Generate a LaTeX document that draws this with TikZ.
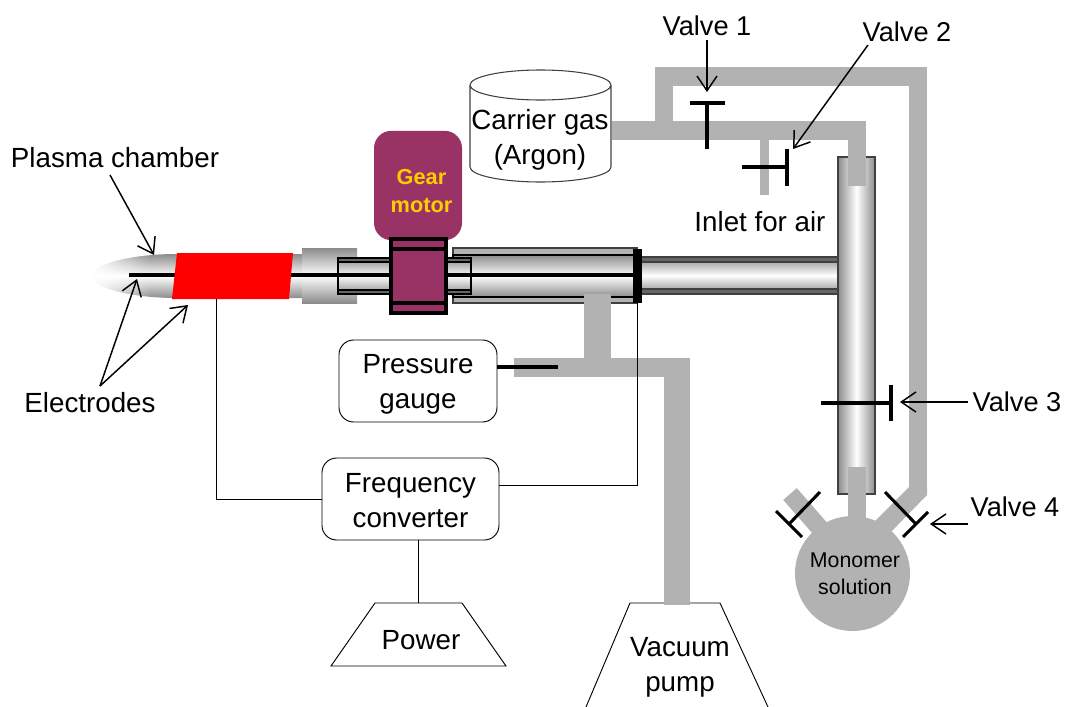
\documentclass[tikz,border=0pt]{standalone}
\usepackage{fontspec}
\setmainfont{Liberation Sans}
\usetikzlibrary{arrows.meta,calc,fadings}
\definecolor{pipegray}{HTML}{B2B2B2}
\definecolor{motorpurple}{HTML}{993366}
\definecolor{shadedark}{HTML}{8C8C8C}
\definecolor{goldtext}{HTML}{FFCC00}
\tikzset{
  label text/.style={font=\fontsize{20.8}{26.5}\selectfont,align=center,inner sep=0pt,text=black},
  valve text/.style={font=\fontsize{20.4}{26}\selectfont,align=center,inner sep=0pt,text=black},
  small text/.style={font=\fontsize{16}{20.2}\selectfont,align=center,inner sep=0pt,text=black},
  pipe/.style={draw=pipegray,line width=13.5pt,line cap=butt,line join=miter},
  thin pipe/.style={fill=pipegray,draw=none},
  hshade/.style={top color=shadedark,bottom color=shadedark,middle color=white},
  vshade/.style={left color=shadedark,right color=shadedark,middle color=white},
  rbox/.style={draw=black,line width=.7pt,fill=white,rounded corners=11pt,inner sep=0pt},
  wire/.style={draw=black,line width=.7pt},
  outline/.style={draw=black!75,line width=.8pt},
  band/.style={fill=black!60,draw=none},
  valve/.style={draw=black,line width=2.3pt},
  pointer/.style={draw=black,line width=1.1pt,-{Straight Barb[length=11pt,width=15pt,line width=1.1pt]}},
}
\begin{document}
\begin{tikzpicture}[x=.75pt,y=-.75pt]
\useasboundingbox (0,0) rectangle (1065,707);

% free connector ends
\coordinate (v1tip) at (707,92);
\coordinate (v1from) at (707,40);
\coordinate (v2tip) at (793,149);
\coordinate (v2from) at (868,45);
\coordinate (v3tip) at (900,402);
\coordinate (v3from) at (968,402);
\coordinate (v4tip) at (930,524);
\coordinate (v4from) at (968,524);
\coordinate (chambertip) at (154,255);
\coordinate (chamberfrom) at (110,175);
\coordinate (elec1tip) at (137,279);
\coordinate (elec1from) at (100,386);
\coordinate (elec2tip) at (188,305);
\coordinate (elec2from) at (100,386);
\coordinate (redwire) at (216,299);
\coordinate (barwire) at (637,303);
\coordinate (powertop) at (418,603);

% horizontal tube, right part
\path[hshade] (642,257) rectangle (838,294);
\path[band] (642,257) rectangle (838,262);
\path[band] (642,289) rectangle (838,294);
\draw[outline] (642,257) -- (838,257) (642,262) -- (838,262) (642,289) -- (838,289) (642,294) -- (838,294);

% large sleeve
\path[fill=pipegray,draw=black!75,line width=.8pt] (453,248) rectangle (637,303);
\path[hshade,draw=black,line width=.8pt] (453,255) rectangle (637,297);

% plasma chamber
\path[hshade] (302,254) -- (177,254) .. controls (131,254) and (93,264) .. (93,276) .. controls (93,288) and (131,298) .. (177,298) -- (302,298) -- cycle;
\begin{scope}
  \clip (177,254) .. controls (131,254) and (93,264) .. (93,276) .. controls (93,288) and (131,298) .. (177,298) -- cycle;
  \fill[white,path fading=east] (90,250) rectangle (150,302);
\end{scope}
% block
\path[hshade] (302,248) rectangle (357,303);
% inner tube
\path[hshade] (338,258) rectangle (471,294);
\path[band] (338,258) rectangle (392,262);
\path[band] (338,290) rectangle (392,294);
\path[band] (446,258) rectangle (471,262);
\path[band] (446,290) rectangle (471,294);
\draw[draw=black,line width=.8pt] (338,258) rectangle (471,294) (338,262) -- (471,262) (338,290) -- (471,290);

% rod
\draw[black,line width=3pt] (129,275) -- (633,275);

% red sleeve
\path[fill=red] (177,253) -- (293,253) -- (289,299) -- (172,299) -- cycle;

% bar
\path[fill=black] (633,249) rectangle (642,303);

% gear motor
\node[fill=motorpurple,rounded corners=13pt,minimum width=66pt,minimum height=82pt,inner sep=0pt] (motor) at (418,185.5) {};
\node[font=\fontsize{16.3}{21}\selectfont\bfseries,text=goldtext,align=center,inner sep=0pt] (motorlabel) at (421.5,191) {Gear\\motor};
\draw[fill=motorpurple,draw=black,line width=2.4pt] (391,239) rectangle (446,313);
\draw[black,line width=2.4pt] (391,249) -- (446,249) (391,303) -- (446,303);

% vertical tube
\path[vshade,draw=black!75,line width=.8pt] (838,157) rectangle (875,494);

% power and pump outlines
\draw[wire,fill=white] (375,603) -- (462,603) -- (506,666) -- (331,666) -- cycle;
\draw[wire] (586,707) -- (630,603) -- (720,603) -- (768,707);

% gas pipes
\path[thin pipe] (612,121) rectangle (866,140);
\path[thin pipe] (848,122) rectangle (866,186);
\path[thin pipe] (655,67) rectangle (673,122);
\path[thin pipe] (655,67) rectangle (927,86);
\path[thin pipe] (909,67) rectangle (927,487);
\path[thin pipe] (909,487) -- (927,487) -- (927,495) -- (888,535) -- (872,524) -- cycle;
\path[thin pipe] (760,140) rectangle (769,195);
% vacuum pipes
\path[thin pipe] (584,294) rectangle (611,358);
\path[thin pipe] (514,358) rectangle (690,377);
\path[thin pipe] (664,358) rectangle (690,605);

% flask
\path[thin pipe] (848,467) rectangle (866,530);
\draw[pipe] (790,494) -- (825,534);
\node[circle,fill=pipegray,minimum size=86.25pt,inner sep=0pt] (flask) at (852.5,573.5) {};
\node[small text] (flasklabel) at (855,573.5) {Monomer\\solution};

% carrier gas cylinder
\draw[outline] (470,85) arc[x radius=70.5,y radius=-15,start angle=180,end angle=0]
               arc[x radius=70.5,y radius=15,start angle=0,end angle=180]
               (470,85) -- (470,167) arc[x radius=70.5,y radius=15,start angle=180,end angle=0] -- (611,85);
\node[label text] (carrier) at (540,139.5) {Carrier gas\\(Argon)};

% boxes
\node[rbox,minimum width=118.5pt,minimum height=61.5pt] (gauge) at (418,381) {};
\node[label text] (gaugelabel) at (418,384) {Pressure\\gauge};
\node[rbox,minimum width=132.75pt,minimum height=61.5pt] (conv) at (410.5,499) {};
\node[label text] (convlabel) at (410.5,500.5) {Frequency\\converter};
\draw[black,line width=3pt] (gauge.east |- 0,367) -- (558,367);

% wires
\draw[wire] (redwire) -- (redwire |- conv.west) -- (conv.west);
\draw[wire] (conv.east |- 0,485) -- (barwire |- 0,485) -- (barwire);
\draw[wire] (powertop |- conv.south) -- (powertop);

\node[label text] (power) at (421,640) {Power};
\node[label text] (pump) at (680,667) {Vacuum\\pump};

% valves
\draw[valve] (690,103) -- (725,103) (707,103) -- (707,149);
\draw[valve] (787,149) -- (787,186) (742,167) -- (787,167);
\draw[valve] (821,403) -- (891,403) (891,385) -- (891,421);
\draw[valve] (885,492) -- (915,523) (903,537) -- (928,512);
\draw[valve] (820,492) -- (790,523) (776,511) -- (802,537);

% labels
\node[valve text] (lv1) at (707,26) {Valve 1};
\node[valve text] (lv2) at (907,32) {Valve 2};
\node[valve text] (lv3) at (1017,402) {Valve 3};
\node[valve text] (lv4) at (1015,507) {Valve 4};
\node[label text] (lair) at (760,222) {Inlet for air};
\node[label text] (lplasma) at (115,158) {Plasma chamber};
\node[label text] (lelec) at (90,403) {Electrodes};

% pointers
\draw[pointer] (v1from) -- (v1tip);
\draw[pointer] (v2from) -- (v2tip);
\draw[pointer] (v3from) -- (v3tip);
\draw[pointer] (v4from) -- (v4tip);
\draw[pointer] (chamberfrom) -- (chambertip);
\draw[pointer] (elec1from) -- (elec1tip);
\draw[pointer] (elec2from) -- (elec2tip);
\end{tikzpicture}
\end{document}
